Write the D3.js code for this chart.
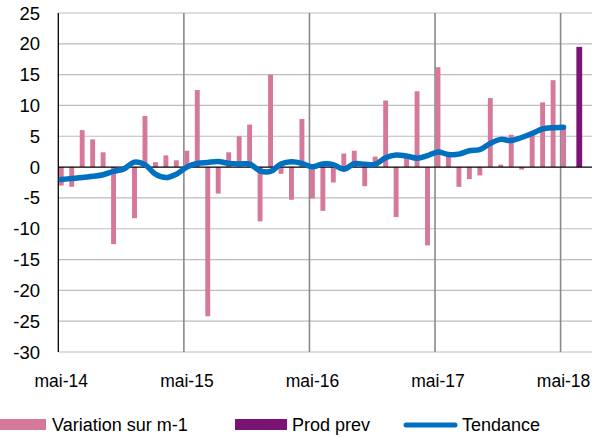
<!DOCTYPE html>
<html lang="fr">
<head>
<meta charset="UTF-8">
<title>Variation sur m-1</title>
<script src="https://d3js.org/d3.v7.min.js"></script>
<style>
  body { margin: 0; background: #fff; }
  svg text { font-family: "Liberation Sans", Arial, sans-serif; fill: #000; }
</style>
</head>
<body>
<svg width="599" height="437"></svg>
<script>
// mois depuis mai-14 (index 0)
const tickIndex = [0, 12, 24, 36, 48]
const tickLabels = ['mai-14', 'mai-15', 'mai-16', 'mai-17', 'mai-18']
const yTicks = [-30, -25, -20, -15, -10, -5, 0, 5, 10, 15, 20, 25]

const variation = [-3.0, -3.2, 6.0, 4.5, 2.4, -12.5, -0.6, -8.3, 8.3, 0.8, 1.9, 1.1,
  2.65, 12.5, -24.2, -4.3, 2.4, 5.0, 6.9, -8.8, 15.0, -1.1, -5.3, 7.8,
  -5.1, -7.1, -2.5, 2.2, 2.65, -3.1, 1.7, 10.8, -8.1, 1.7, 12.3, -12.7,
  16.2, 1.8, -3.2, -1.95, -1.35, 11.2, 0.4, 5.25, -0.4, 5.85, 10.5, 14.1,
  6.5]
const tendance = [-2.0, -1.85, -1.7, -1.5, -1.25, -0.7, -0.3, 0.8, 0.4, -1.15, -1.7, -1.15,
  0.0, 0.6, 0.75, 0.9, 0.6, 0.5, 0.5, -0.6, -0.7, 0.5, 0.85, 0.6,
  0.05, 0.5, 0.4, -0.35, 0.55, 0.45, 0.45, 1.5, 1.95, 1.8, 1.45, 1.85,
  2.45, 2.05, 2.1, 2.65, 2.85, 3.85, 4.5, 4.3, 4.8, 5.45, 6.2, 6.4,
  6.45]
const prodPrevIndex = [49]
const prodPrev = [19.5]

const pink = '#d5789b'
const purple = '#7a1373'
const blue = '#0070c0'

const svg = d3.select('svg')
const x = d3.scaleLinear().domain([0, 51]).range([58.3, 592])
const y = d3.scaleLinear().domain([-30, 25]).range([352, 13])
const step = x(1) - x(0)

// grille horizontale
svg.append('g').selectAll('line')
  .data(yTicks.filter(d => d !== 0))
  .enter().append('line')
  .attr('x1', x(0)).attr('x2', x(51))
  .attr('y1', d => y(d)).attr('y2', d => y(d))
  .attr('stroke', '#bdbdbd').attr('stroke-width', 1.2)

// grille verticale
svg.append('g').selectAll('line')
  .data(tickIndex.slice(1))
  .enter().append('line')
  .attr('x1', d => x(d)).attr('x2', d => x(d))
  .attr('y1', y(25)).attr('y2', y(-30))
  .attr('stroke', '#8a8a8a').attr('stroke-width', 1.6)

// barres variation
svg.append('g').selectAll('rect')
  .data(variation)
  .enter().append('rect')
  .attr('x', (d, i) => x(i) + 0.5)
  .attr('width', 4.9)
  .attr('y', d => y(Math.max(0, d)))
  .attr('height', d => Math.abs(y(d) - y(0)))
  .attr('fill', pink)

// barre prod prev
svg.append('g').selectAll('rect')
  .data(prodPrev)
  .enter().append('rect')
  .attr('x', (d, i) => x(prodPrevIndex[i]) + 5.3)
  .attr('width', 5.8)
  .attr('y', d => y(Math.max(0, d)))
  .attr('height', d => Math.abs(y(d) - y(0)))
  .attr('fill', purple)

// axe zero + axe gauche
svg.append('line')
  .attr('x1', x(0)).attr('x2', x(51))
  .attr('y1', y(0)).attr('y2', y(0))
  .attr('stroke', '#000').attr('stroke-width', 1.3)
svg.append('line')
  .attr('x1', x(0)).attr('x2', x(0))
  .attr('y1', y(25)).attr('y2', y(-30))
  .attr('stroke', '#000').attr('stroke-width', 1.3)

// tendance
const line = d3.line()
  .x((d, i) => x(i) + 2.9)
  .y(d => y(d))
  .curve(d3.curveCatmullRom)
svg.append('path')
  .datum(tendance)
  .attr('d', line)
  .attr('fill', 'none')
  .attr('stroke', blue)
  .attr('stroke-width', 5.5)
  .attr('stroke-linecap', 'round')
  .attr('stroke-linejoin', 'round')

// labels y
svg.append('g').selectAll('text')
  .data(yTicks)
  .enter().append('text')
  .attr('x', 40)
  .attr('y', d => y(d) + 6.5)
  .attr('text-anchor', 'end')
  .style('font-size', '18.5px')
  .text(d => d)

// labels x
svg.append('g').selectAll('text')
  .data(tickIndex)
  .enter().append('text')
  .attr('x', d => x(d) + 3)
  .attr('y', 387)
  .attr('text-anchor', 'middle')
  .style('font-size', '17.5px')
  .text((d, i) => tickLabels[i])

// legende
const legend = svg.append('g')
legend.append('rect').attr('x', 0).attr('y', 419).attr('width', 46).attr('height', 11).attr('fill', pink)
legend.append('text').attr('x', 52).attr('y', 431).style('font-size', '18px').text('Variation sur m-1')
legend.append('rect').attr('x', 235).attr('y', 419).attr('width', 52).attr('height', 11).attr('fill', purple)
legend.append('text').attr('x', 292).attr('y', 431).style('font-size', '18px').text('Prod prev')
legend.append('line').attr('x1', 406).attr('x2', 455).attr('y1', 425).attr('y2', 425)
  .attr('stroke', blue).attr('stroke-width', 5).attr('stroke-linecap', 'round')
legend.append('text').attr('x', 462).attr('y', 431).style('font-size', '18px').text('Tendance')
</script>
</body>
</html>
